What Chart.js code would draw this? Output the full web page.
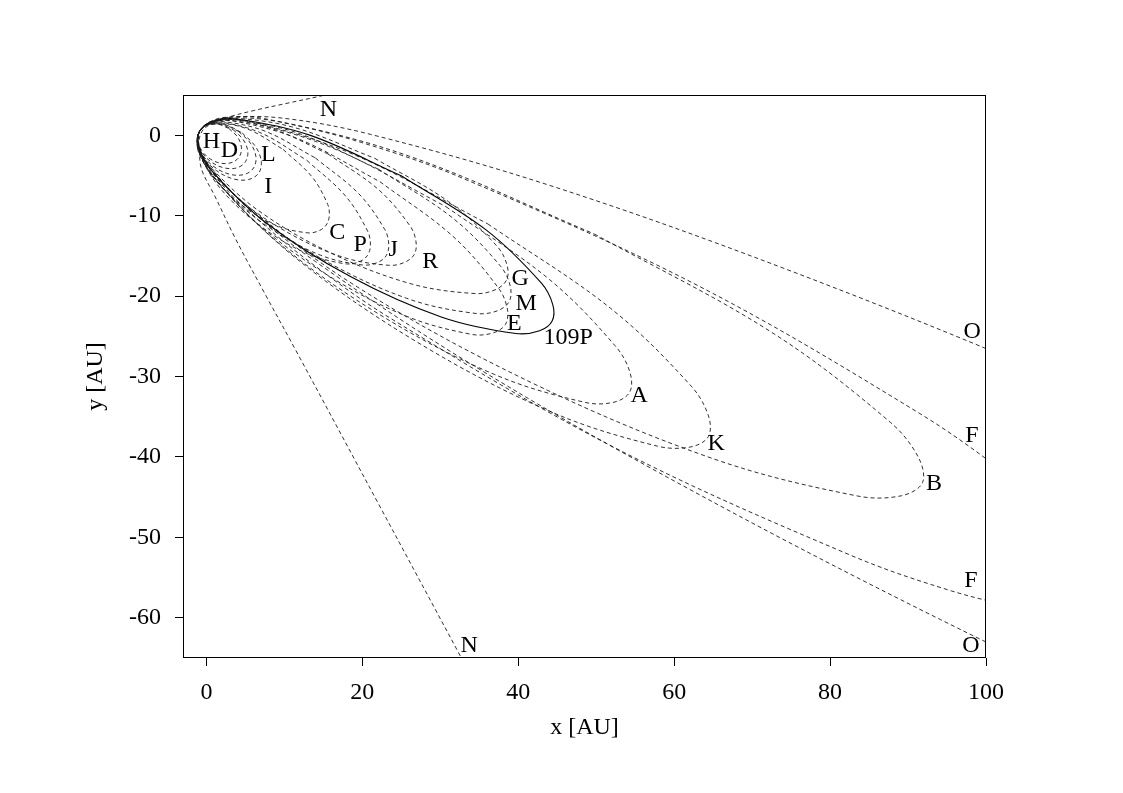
<!DOCTYPE html>
<html><head><meta charset="utf-8">
<script src="https://cdn.jsdelivr.net/npm/chart.js@4"></script>
<style>html,body{margin:0;padding:0;background:#fff}#wrap{width:1123px;height:793px;position:relative}</style>
</head><body><div id="wrap"><canvas id="c"></canvas></div>
<script>
// Axis ticks
const xTicks = [0, 20, 40, 60, 80, 100];
const yTicks = [0, -10, -20, -30, -40, -50, -60];

// Orbit tracks (x, y in AU)
const H_X = [2.88,3.99,4.49,4.24,3.31,1.94,0.51,-0.60,-1.10,-1.07,-0.85,-0.46,0.09,1.45,2.88];
const H_Y = [0.84,-0.21,-1.49,-2.65,-3.38,-3.50,-2.96,-1.91,-0.63,-0.02,0.53,0.97,1.27,1.38,0.84];
const D_X = [3.43,4.72,5.31,5.03,3.97,2.41,0.76,-0.53,-1.11,-1.08,-0.84,-0.39,0.22,1.78,3.43];
const D_Y = [0.69,-0.54,-1.99,-3.27,-4.04,-4.09,-3.42,-2.19,-0.74,-0.05,0.54,1.01,1.32,1.37,0.69];
const L_X = [4.12,5.64,6.35,6.05,4.84,3.02,1.10,-0.42,-1.12,-1.10,-0.83,-0.32,0.39,2.20,4.12];
const L_Y = [0.48,-0.98,-2.65,-4.08,-4.89,-4.86,-4.00,-2.54,-0.87,-0.10,0.56,1.06,1.37,1.34,0.48];
const I_X = [4.59,6.26,7.03,6.72,5.39,3.41,1.31,-0.36,-1.14,-1.12,-0.82,-0.27,0.51,2.49,4.59];
const I_Y = [0.28,-1.35,-3.18,-4.70,-5.52,-5.42,-4.41,-2.78,-0.95,-0.12,0.57,1.09,1.39,1.29,0.28];
const C_X = [9.84,13.55,15.57,15.76,15.37,14.44,13.01,9.11,4.72,1.02,-1.00,-1.20,-0.81,0.13,1.56,5.46,9.84];
const C_Y = [-1.76,-5.18,-8.62,-10.06,-11.17,-11.88,-12.14,-11.28,-8.82,-5.41,-1.96,-0.53,0.59,1.30,1.56,0.70,-1.76];
const P_X = [12.88,17.84,20.67,21.04,20.63,19.50,17.71,12.70,6.94,1.98,-0.85,-1.21,-0.81,0.32,2.12,7.12,12.88];
const P_Y = [-3.12,-7.55,-11.90,-13.66,-14.99,-15.78,-15.98,-14.63,-11.29,-6.84,-2.50,-0.74,0.59,1.38,1.59,0.23,-3.12];
const J_X = [13.97,19.56,22.89,23.39,23.06,21.91,20.03,14.62,8.25,2.66,-0.67,-1.18,-0.84,0.30,2.19,7.61,13.97];
const J_Y = [-2.82,-7.29,-11.74,-13.57,-14.98,-15.85,-16.14,-14.91,-11.61,-7.15,-2.70,-0.86,0.54,1.42,1.70,0.47,-2.82];
const R_X = [15.58,22.11,26.17,26.89,26.68,25.51,23.49,17.47,10.22,3.69,-0.37,-1.10,-0.87,0.29,2.31,8.33,15.58];
const R_Y = [-2.32,-6.79,-11.35,-13.27,-14.79,-15.77,-16.18,-15.15,-11.98,-7.52,-2.95,-1.03,0.48,1.47,1.88,0.85,-2.32];
const G_X = [21.57,31.05,37.26,38.56,38.52,37.14,34.50,26.27,16.05,6.56,0.35,-0.95,-0.91,0.48,3.11,11.34,21.57];
const G_Y = [-2.86,-8.25,-13.78,-16.12,-17.96,-19.18,-19.69,-18.48,-14.68,-9.29,-3.76,-1.42,0.42,1.64,2.15,0.94,-2.86];
const M_X = [22.09,31.61,37.75,38.98,38.85,37.36,34.63,26.21,15.87,6.35,0.22,-1.02,-0.88,0.60,3.33,11.75,22.09];
const M_Y = [-4.23,-10.31,-16.31,-18.78,-20.66,-21.82,-22.17,-20.45,-15.95,-9.88,-3.87,-1.40,0.47,1.63,1.99,0.26,-4.23];
const E_X = [22.26,31.60,37.49,38.61,38.37,36.79,33.99,25.53,15.25,5.92,0.02,-1.10,-0.85,0.72,3.53,11.99,22.26];
const E_Y = [-5.78,-12.55,-19.04,-21.62,-23.51,-24.58,-24.76,-22.45,-17.22,-10.44,-3.95,-1.37,0.52,1.60,1.77,-0.53,-5.78];
const P109_X = [24.99,35.87,42.95,44.43,44.35,42.74,39.69,30.21,18.47,7.59,0.52,-0.96,-0.89,0.73,3.78,13.25,24.99];
const P109_Y = [-5.04,-11.77,-18.37,-21.06,-23.09,-24.30,-24.65,-22.63,-17.58,-10.85,-4.26,-1.56,0.46,1.68,2.02,0.01,-5.04];
const A_X = [30.74,43.99,52.60,54.38,54.28,52.30,48.57,37.01,22.68,9.43,0.82,-0.97,-0.86,1.12,4.85,16.41,30.74];
const A_Y = [-8.89,-17.93,-26.38,-29.65,-31.97,-33.19,-33.22,-29.77,-22.57,-13.54,-5.09,-1.82,0.51,1.73,1.75,-1.69,-8.89];
const K_X = [36.10,51.84,62.19,64.40,64.39,62.16,57.85,44.32,27.42,11.69,1.34,-0.88,-0.86,1.37,5.68,19.21,36.10];
const K_Y = [-11.03,-21.52,-31.20,-34.89,-37.47,-38.75,-38.66,-34.44,-25.95,-15.45,-5.77,-2.07,0.50,1.79,1.69,-2.53,-11.03];
const B_X = [49.76,72.37,87.77,91.36,91.84,89.14,83.48,64.94,41.18,18.57,3.17,-0.44,-0.90,1.78,7.46,26.00,49.76];
const B_Y = [-12.28,-24.42,-35.73,-40.11,-43.22,-44.83,-44.85,-40.20,-30.52,-18.38,-7.06,-2.68,0.43,2.05,2.06,-2.60,-12.28];
const F_X = [111.02,102.77,91.43,62.81,32.82,19.88,9.51,4.38,0.88,-0.23,-0.89,-1.11,-0.88,0.90,4.42,12.68,24.01,52.63,82.63,95.57,105.94];
const F_Y = [-48.99,-42.24,-34.56,-18.58,-5.33,-0.90,1.63,2.17,1.77,1.22,0.45,-0.56,-1.77,-4.81,-8.57,-15.33,-23.00,-38.98,-52.22,-56.66,-59.19];
const O_X = [143.61,107.79,73.93,44.33,21.03,9.79,2.40,0.22,-0.91,-1.01,-0.04,4.97,13.99,34.37,61.73,94.19,129.53];
const O_Y = [-44.98,-29.68,-16.50,-6.33,0.11,2.12,2.22,1.55,0.41,-1.20,-3.27,-8.70,-15.71,-28.71,-43.90,-60.24,-76.62];
const N_X = [22.0,15.0,10.0,6.0,3.0,1.0,-0.4,-0.95,-0.9,-0.6,1.1,3.8,7.5,11.5,22.0,32.6,35.0];
const N_Y = [6.6,4.95,3.9,3.05,2.3,1.6,0.7,-0.6,-2.2,-4.3,-7.6,-13.0,-19.7,-26.8,-45.7,-64.8,-69.2];

// Orbit labels
const LBL_T = ['N','H','D','L','I','C','P','J','R','G','M','E','109P','A','K','B','O','F','F','O','N'];
const LBL_X = [15.64,0.64,2.95,7.95,7.95,16.79,19.74,23.97,28.72,40.26,41.03,39.49,46.41,55.51,65.38,93.33,98.21,98.21,98.08,98.08,33.72];
const LBL_Y = [3.36,-0.62,-1.74,-2.24,-6.22,-11.94,-13.43,-14.05,-15.55,-17.66,-20.77,-23.26,-25.0,-32.21,-38.18,-43.16,-24.25,-37.19,-55.22,-63.31,-63.31];

const ORBITS = [
  ['H',H_X,H_Y],['D',D_X,D_Y],['L',L_X,L_Y],['I',I_X,I_Y],['C',C_X,C_Y],['P',P_X,P_Y],
  ['J',J_X,J_Y],['R',R_X,R_Y],['G',G_X,G_Y],['M',M_X,M_Y],['E',E_X,E_Y],['109P',P109_X,P109_Y],
  ['A',A_X,A_Y],['K',K_X,K_Y],['B',B_X,B_Y],['F',F_X,F_Y],['O',O_X,O_Y],['N',N_X,N_Y]
];

const FONT = '"Liberation Serif", "Times New Roman", serif';
Chart.defaults.font.family = FONT;
Chart.defaults.font.size = 24;
Chart.defaults.color = '#000';

const datasets = ORBITS.map(([name, xs, ys]) => ({
  label: name,
  data: xs.map((x, i) => ({x: x, y: ys[i]})),
  showLine: true,
  fill: false,
  borderColor: name === '109P' ? '#000' : '#1a1a1a',
  borderWidth: name === '109P' ? 1.1 : 0.9,
  borderDash: name === '109P' ? [] : [4, 3],
  pointRadius: 0,
  pointHoverRadius: 0,
  tension: 0.35
}));

const overlay = {
  id: 'overlay',
  afterDatasetsDraw(chart) {
    const {ctx, chartArea: a, scales: {x, y}} = chart;
    ctx.save();
    ctx.setLineDash([]);
    ctx.strokeStyle = '#000';
    ctx.lineWidth = 1;
    ctx.strokeRect(Math.round(a.left) + 0.5, Math.round(a.top) + 0.5,
                   Math.round(a.right - a.left) - 1, Math.round(a.bottom - a.top) - 1);
    ctx.font = '24px ' + FONT;
    ctx.fillStyle = '#000';
    ctx.textAlign = 'center';
    ctx.textBaseline = 'alphabetic';
    LBL_T.forEach((t, i) => {
      ctx.fillText(t, x.getPixelForValue(LBL_X[i]), y.getPixelForValue(LBL_Y[i]) + 8);
    });
    ctx.restore();
  }
};

new Chart(document.getElementById('c'), {
  type: 'scatter',
  data: {datasets},
  plugins: [overlay],
  options: {
    responsive: true,
    maintainAspectRatio: false,
    animation: false,
    events: [],
    layout: {padding: {left: 0, right: 137, top: 95, bottom: 0}},
    elements: {line: {capBezierPoints: false}},
    plugins: {legend: {display: false}, tooltip: {enabled: false}},
    scales: {
      x: {
        type: 'linear', min: -3, max: 100,
        afterFit(s) { s.height = 135; },
        afterBuildTicks(s) { s.ticks = xTicks.map(v => ({value: v})); },
        ticks: {callback: v => String(v), padding: 12, maxRotation: 0, autoSkip: false, color: '#000', font: {size: 24}},
        grid: {drawOnChartArea: false, drawTicks: true, tickLength: 8, color: '#000', lineWidth: 1},
        border: {display: false},
        title: {display: true, text: 'x [AU]', color: '#000', font: {size: 24}, padding: {top: 0, bottom: 51}}
      },
      y: {
        type: 'linear', min: -65, max: 5,
        afterFit(s) { s.width = 183; },
        afterBuildTicks(s) { s.ticks = yTicks.map(v => ({value: v})); },
        ticks: {callback: v => String(v), padding: 14, autoSkip: false, color: '#000', font: {size: 24}},
        grid: {drawOnChartArea: false, drawTicks: true, tickLength: 8, color: '#000', lineWidth: 1},
        border: {display: false},
        title: {display: true, text: 'y [AU]', color: '#000', font: {size: 24}, padding: {top: 81, bottom: 0}}
      }
    }
  }
});
</script>
</body></html>
